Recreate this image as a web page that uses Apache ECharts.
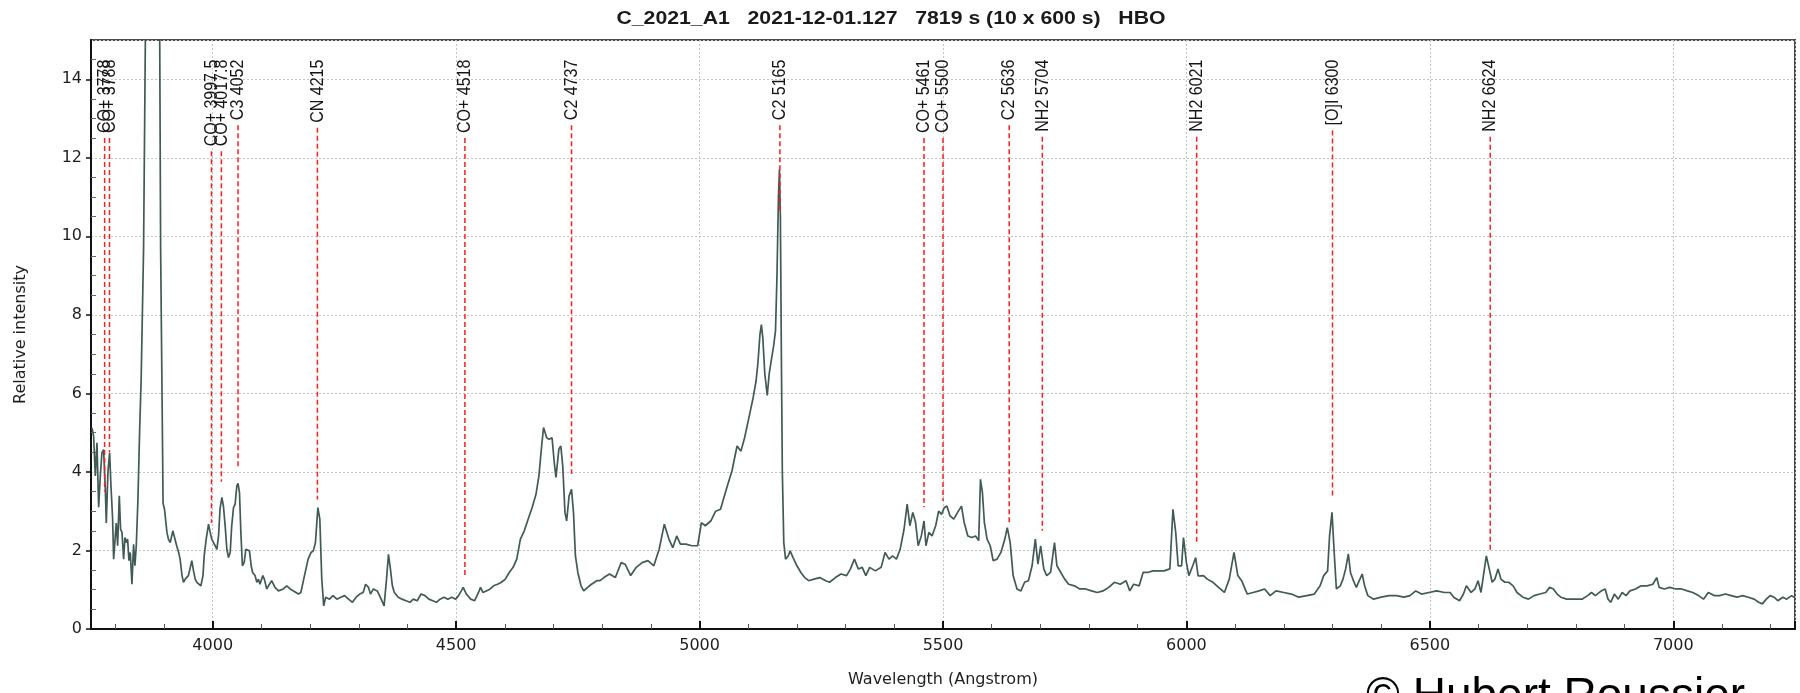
<!DOCTYPE html>
<html>
<head>
<meta charset="utf-8">
<script src="https://cdn.jsdelivr.net/npm/echarts@6/dist/echarts.min.js"></script>
<style>
html,body{margin:0;padding:0;background:#fff;}
#chart{width:1800px;height:693px;}
</style>
</head>
<body>
<div id="chart"></div>
<script>
// ---------------- data ----------------
const titleText = 'C_2021_A1   2021-12-01.127   7819 s (10 x 600 s)   HBO';
const xAxisName = 'Wavelength (Angstrom)';
const yAxisName = 'Relative intensity';
const credit = '\u00A9 Hubert Roussier';

// emission-line identifications
const lineWl = [3778, 3788, 3997.5, 4017.8, 4052, 4215, 4518, 4737, 5165, 5461, 5500, 5636, 5704, 6021, 6300, 6624];
const lineNames = ['CO+ 3778', 'CO+ 3788', 'CO+ 3997.5', 'CO+ 4017.8', 'C3 4052', 'CN 4215', 'CO+ 4518', 'C2 4737',
  'C2 5165', 'CO+ 5461', 'CO+ 5500', 'C2 5636', 'NH2 5704', 'NH2 6021', '[O]I 6300', 'NH2 6624'];
const lineEnds = [3.5, 4.5, 2.7, 3.75, 4.1, 3.3, 1.35, 3.95, 10.6, 3.1, 3.26, 2.67, 2.5, 2.2, 3.39, 1.95];

// spectrum: wavelength (Angstrom)
const wl = [3752,3755.4,3758.8,3762.3,3765.7,3769.1,3772.5,3775.9,3779.4,3781.4,3784.8,3788.3,3791,3794.4,3796.5,3799.9,3801.9,3804.7,3808.1,3810.8,3813.6,3817,3819.7,3822.5,3825.2,3827.9,3830.7,3834.1,3837.5,3840.2,3843,3846.4,3850,3853,3858,3862,3868,3876,3883,3888,3891,3893,3897,3898,3901,3906,3909,3912.7,3918,3922,3926,3930,3933,3937,3940,3943.5,3947,3950,3954,3957,3960.6,3964,3967.5,3971,3975.7,3980,3982.5,3986.6,3991.4,3994.8,3998,4001.7,4005,4008.5,4012,4015,4018.8,4022,4025.6,4029,4032.4,4035.9,4039,4042.7,4046,4049.5,4052,4055,4057.8,4061,4064.6,4068,4072,4075.5,4079,4082,4087,4090.6,4094,4097,4103,4106,4111,4116.6,4121,4128,4135,4145,4152,4159,4166,4176,4181,4188.5,4196,4202,4206.6,4211,4216,4220,4224,4228,4232,4240,4247,4255,4263,4271,4279,4287,4294.6,4302,4309,4314,4320,4324,4330,4338,4346,4352,4357,4361,4365,4369,4373,4381,4389,4397,4405,4412,4420,4428,4436,4444,4452,4459.5,4467,4475,4483,4491,4499,4505,4510.6,4514.5,4521,4530,4538,4546,4550,4555,4562,4570,4577,4585,4593,4601,4609,4617,4624.5,4632,4640,4648,4656,4664,4670,4675.6,4679.5,4686,4691,4697,4701.5,4705,4711,4715,4719,4723.5,4727,4732,4737,4741,4745,4750,4756.5,4762,4770,4778,4789,4795.6,4803.5,4815,4827,4839,4847,4858.5,4870,4882,4894,4906,4917,4927.6,4937,4945,4953,4960.6,4972,4984,4996,5003.8,5011.6,5023,5033,5043,5055,5066.6,5077,5085,5092.5,5102,5110,5116,5120,5124,5127,5130,5134,5139,5143,5148,5152,5156,5159,5162,5164,5166,5168,5170,5173,5176.6,5182,5186,5192,5200,5208,5216,5224,5235,5247,5259,5267,5279,5290.5,5302,5310,5318,5326,5334,5341.5,5349.4,5361,5373,5381,5389,5396.5,5404.4,5412,5420,5426.4,5432,5438,5443.7,5449,5455.5,5461,5465,5471,5477.5,5485,5491,5497,5502.6,5508,5514.4,5522,5530,5538,5543.5,5551,5559,5567,5573.3,5577,5581,5585,5590.6,5597,5603,5611,5619,5627,5632,5638,5644,5652,5660,5667.6,5675.4,5683,5689.6,5695,5700.6,5707,5713,5721,5729,5734,5742,5750,5758,5770,5781,5793,5805,5817,5828.6,5840.4,5852,5864,5876,5883.6,5891.5,5903,5911,5920.5,5931,5942.5,5954,5966,5972.3,5978,5983,5990,5994,6000,6005,6013,6019,6024,6035,6043,6054.5,6066,6078,6088,6097.7,6105.6,6113.4,6125,6137,6149,6160.5,6172,6184,6200,6215.5,6231,6247,6262.7,6274.5,6282,6290,6294,6299,6303.5,6308,6316,6321.6,6327,6332.6,6337,6343,6349,6355,6361,6366,6372.6,6384.4,6400,6416,6431.6,6447,6459,6471,6483,6498,6514,6530,6541.5,6549,6561,6569,6575,6584.7,6592.6,6599,6605,6611,6616,6622,6628,6633.5,6640,6646,6654,6662,6671,6679,6691,6702.6,6714,6726,6738,6746,6753.6,6761.5,6769,6781,6797,6812.5,6824,6832,6840,6852,6860,6866,6871.5,6879,6887,6895,6903,6911,6922.5,6934,6946,6958,6966,6971,6981.5,6993,7005,7017,7029,7040,7052,7062,7072,7084,7095,7107,7119,7131,7142.5,7154,7166,7175.5,7183,7191,7199,7207,7214.7,7225,7233,7243,7249];

// spectrum: relative intensity
const intensity = [5.12,4.91,3.9,4.74,3.1,3.9,4.49,4.57,3.56,2.7,4.0,4.49,3.64,2.8,1.78,2.37,2.7,2.12,3.39,2.54,2.46,1.78,2.33,2.2,2.29,1.74,1.95,1.14,2.16,1.61,2.12,3.3,5.1,6.35,9.7,15.5,24,30,32,26,15.5,9.7,4.6,3.2,3.05,2.46,2.29,2.2,2.5,2.46,2.12,1.95,1.78,1.36,1.19,1.27,1.23,1.36,1.57,1.74,1.48,1.27,1.19,1.14,1.1,1.36,1.86,2.29,2.67,2.46,2.29,2.2,2.12,2.03,2.37,3.05,3.35,3.13,2.62,2.03,1.82,1.95,2.62,3.09,3.18,3.64,3.71,3.47,2.46,1.61,1.69,2.03,2.07,1.99,1.61,1.44,1.36,1.19,1.27,1.14,1.36,1.27,1.02,1.14,1.23,1.06,0.97,1.02,1.1,1.02,0.97,0.89,0.93,1.36,1.78,1.95,1.99,2.2,3.09,2.8,1.27,0.59,0.81,0.76,0.85,0.76,0.81,0.85,0.76,0.68,0.81,0.89,0.93,1.14,1.06,0.89,1.02,0.97,0.76,0.59,1.27,1.9,1.53,1.1,0.93,0.81,0.76,0.72,0.68,0.76,0.72,0.89,0.85,0.76,0.72,0.68,0.76,0.81,0.76,0.81,0.76,0.85,0.97,1.06,0.89,0.76,0.72,0.93,1.06,0.93,0.97,1.02,1.1,1.14,1.19,1.27,1.44,1.57,1.78,2.29,2.5,2.8,3.09,3.43,3.9,4.66,5.13,4.87,4.83,4.87,4.24,3.86,4.58,4.66,4.15,2.97,2.75,3.39,3.56,2.97,1.86,1.44,1.1,0.97,1.06,1.14,1.23,1.23,1.31,1.4,1.31,1.69,1.65,1.36,1.57,1.69,1.74,1.61,2.03,2.67,2.29,2.07,2.37,2.16,2.16,2.12,2.12,2.71,2.63,2.75,3.0,3.05,3.56,4.03,4.66,4.53,4.87,5.42,5.89,6.31,6.8,7.5,7.75,7.4,6.5,5.95,6.5,6.9,7.2,7.6,9.0,11.0,11.7,10.5,7.0,4.0,2.2,1.78,1.86,1.99,1.82,1.61,1.44,1.31,1.23,1.27,1.31,1.23,1.19,1.31,1.4,1.36,1.53,1.78,1.53,1.57,1.36,1.57,1.48,1.57,1.95,1.78,1.86,1.78,2.03,2.54,3.18,2.63,2.97,2.71,2.12,2.37,2.75,2.12,2.46,2.37,2.63,3.0,2.92,3.09,3.13,2.88,2.8,2.97,3.13,2.71,2.37,2.33,2.37,2.25,3.81,3.47,2.71,2.29,2.12,1.74,1.78,1.95,2.29,2.58,2.2,1.36,1.02,0.97,1.19,1.23,1.61,2.29,1.65,2.12,1.53,1.36,1.44,2.2,1.61,1.44,1.27,1.14,1.1,1.02,1.02,0.97,0.93,0.97,1.06,1.19,1.14,1.23,0.97,1.14,1.1,1.44,1.44,1.48,1.48,1.48,1.53,3.05,2.46,1.61,1.61,2.33,1.69,1.36,1.61,1.82,1.35,1.36,1.27,1.19,1.06,0.93,1.27,1.95,1.36,1.23,0.89,0.93,0.97,1.02,0.85,0.97,0.93,0.89,0.81,0.85,0.89,1.1,1.36,1.48,2.37,2.97,1.95,1.02,1.1,1.27,1.53,1.91,1.44,1.23,1.06,1.23,1.4,1.1,0.85,0.76,0.81,0.85,0.85,0.81,0.85,0.97,0.89,0.93,0.97,0.93,0.93,0.81,0.72,0.89,1.1,0.93,1.02,1.23,0.93,1.44,1.86,1.53,1.19,1.27,1.53,1.27,1.19,1.19,1.1,0.93,0.81,0.76,0.85,0.89,0.93,1.06,1.02,0.89,0.81,0.76,0.76,0.76,0.85,0.93,0.85,0.97,1.02,0.76,0.68,0.89,0.76,0.93,0.85,0.97,1.02,1.1,1.1,1.14,1.31,1.06,1.02,1.06,1.02,1.02,0.97,0.93,0.85,0.76,0.93,0.85,0.85,0.89,0.85,0.81,0.85,0.81,0.76,0.68,0.64,0.76,0.85,0.81,0.72,0.81,0.76,0.85,0.8];

// ---------------- chart ----------------
const chart = echarts.init(document.getElementById('chart'), null, {renderer: 'canvas'});

const labelFont = '16px "Liberation Sans"';
const measureCtx = document.createElement('canvas').getContext('2d');
measureCtx.font = labelFont;
const labelTopValue = 14.5;
const tickFont = {fontFamily: 'DejaVu Sans', fontSize: 16, color: '#1e1e1e'};
const gridLine = {show: true, lineStyle: {color: '#c4c4c4', width: 1, type: [2, 2]}};

const option = {
  animation: false,
  backgroundColor: '#ffffff',
  graphic: [
    {type: 'text', x: 891, y: 19.5, scaleX: 1.18,
     style: {text: titleText, font: 'bold 18px "Liberation Sans"', fill: '#1a1a1a', align: 'center', verticalAlign: 'middle'}},
    {type: 'text', left: 1366, top: 674,
     style: {text: credit, font: '46px "Liberation Sans"', fill: '#000'}}
  ],
  grid: {left: 91, right: 5, top: 40, bottom: 63, show: true, borderColor: '#4a4a4a', borderWidth: 2, backgroundColor: 'transparent'},
  xAxis: [{
    type: 'value', min: 3750, max: 7250, splitNumber: 7, position: 'bottom',
    axisLine: {show: true, onZero: false, lineStyle: {color: '#111', width: 2}},
    axisTick: {show: true, inside: true, length: 8, lineStyle: {color: '#111', width: 2}},
    minorTick: {show: true, splitNumber: 5, length: 5, lineStyle: {color: '#555', width: 1}},
    axisLabel: Object.assign({margin: 9, showMinLabel: false, showMaxLabel: false,
      formatter: function (v) { return String(v); }}, tickFont),
    splitLine: gridLine,
    name: xAxisName, nameLocation: 'middle', nameGap: 43,
    nameTextStyle: {fontFamily: 'DejaVu Sans', fontSize: 16, color: '#1e1e1e'}
  }],
  yAxis: [{
    type: 'value', min: 0, max: 15, interval: 2, position: 'left',
    axisLine: {show: true, onZero: false, lineStyle: {color: '#111', width: 2}},
    axisTick: {show: true, length: 5, lineStyle: {color: '#111', width: 1.5}},
    axisLabel: Object.assign({margin: 9, showMaxLabel: false}, tickFont),
    splitLine: gridLine,
    name: yAxisName, nameLocation: 'middle', nameGap: 62,
    nameTextStyle: {fontFamily: 'DejaVu Sans', fontSize: 16, color: '#1e1e1e'}
  }, {
    type: 'value', min: 0, max: 15, interval: 2, position: 'left',
    axisLine: {show: false},
    axisTick: {show: false, inside: true},
    minorTick: {show: true, splitNumber: 4, length: 5, lineStyle: {color: '#666', width: 1}},
    axisLabel: {show: false},
    splitLine: {show: false}
  }],
  series: [{
    type: 'line', xAxisIndex: 0, yAxisIndex: 0,
    data: wl.map((w, i) => [w, intensity[i]]),
    showSymbol: false, symbol: 'none', clip: true, z: 3,
    lineStyle: {color: '#405a56', width: 1.7}
  }, {
    type: 'custom', xAxisIndex: 0, yAxisIndex: 0, z: 6, clip: false,
    data: lineWl.map((w, i) => [w, lineEnds[i]]),
    encode: {x: 0, y: 1},
    renderItem: function (params, api) {
      const i = params.dataIndex;
      const x = api.coord([api.value(0), 0])[0];
      const yEnd = api.coord([api.value(0), api.value(1)])[1];
      const yTop = api.coord([api.value(0), labelTopValue])[1];
      const len = measureCtx.measureText(lineNames[i]).width;
      return {
        type: 'group',
        children: [{
          type: 'text', x: x, y: yTop, rotation: Math.PI / 2, scaleY: 1.18,
          style: {text: lineNames[i], font: labelFont, fill: '#151515', align: 'right', verticalAlign: 'middle'}
        }, {
          type: 'line',
          shape: {x1: x, y1: yTop + len + 5, x2: x, y2: yEnd},
          style: {stroke: '#ff1e1e', lineWidth: 1.5, lineDash: [5, 3]}
        }]
      };
    }
  }]
};
chart.setOption(option);
</script>
</body>
</html>
